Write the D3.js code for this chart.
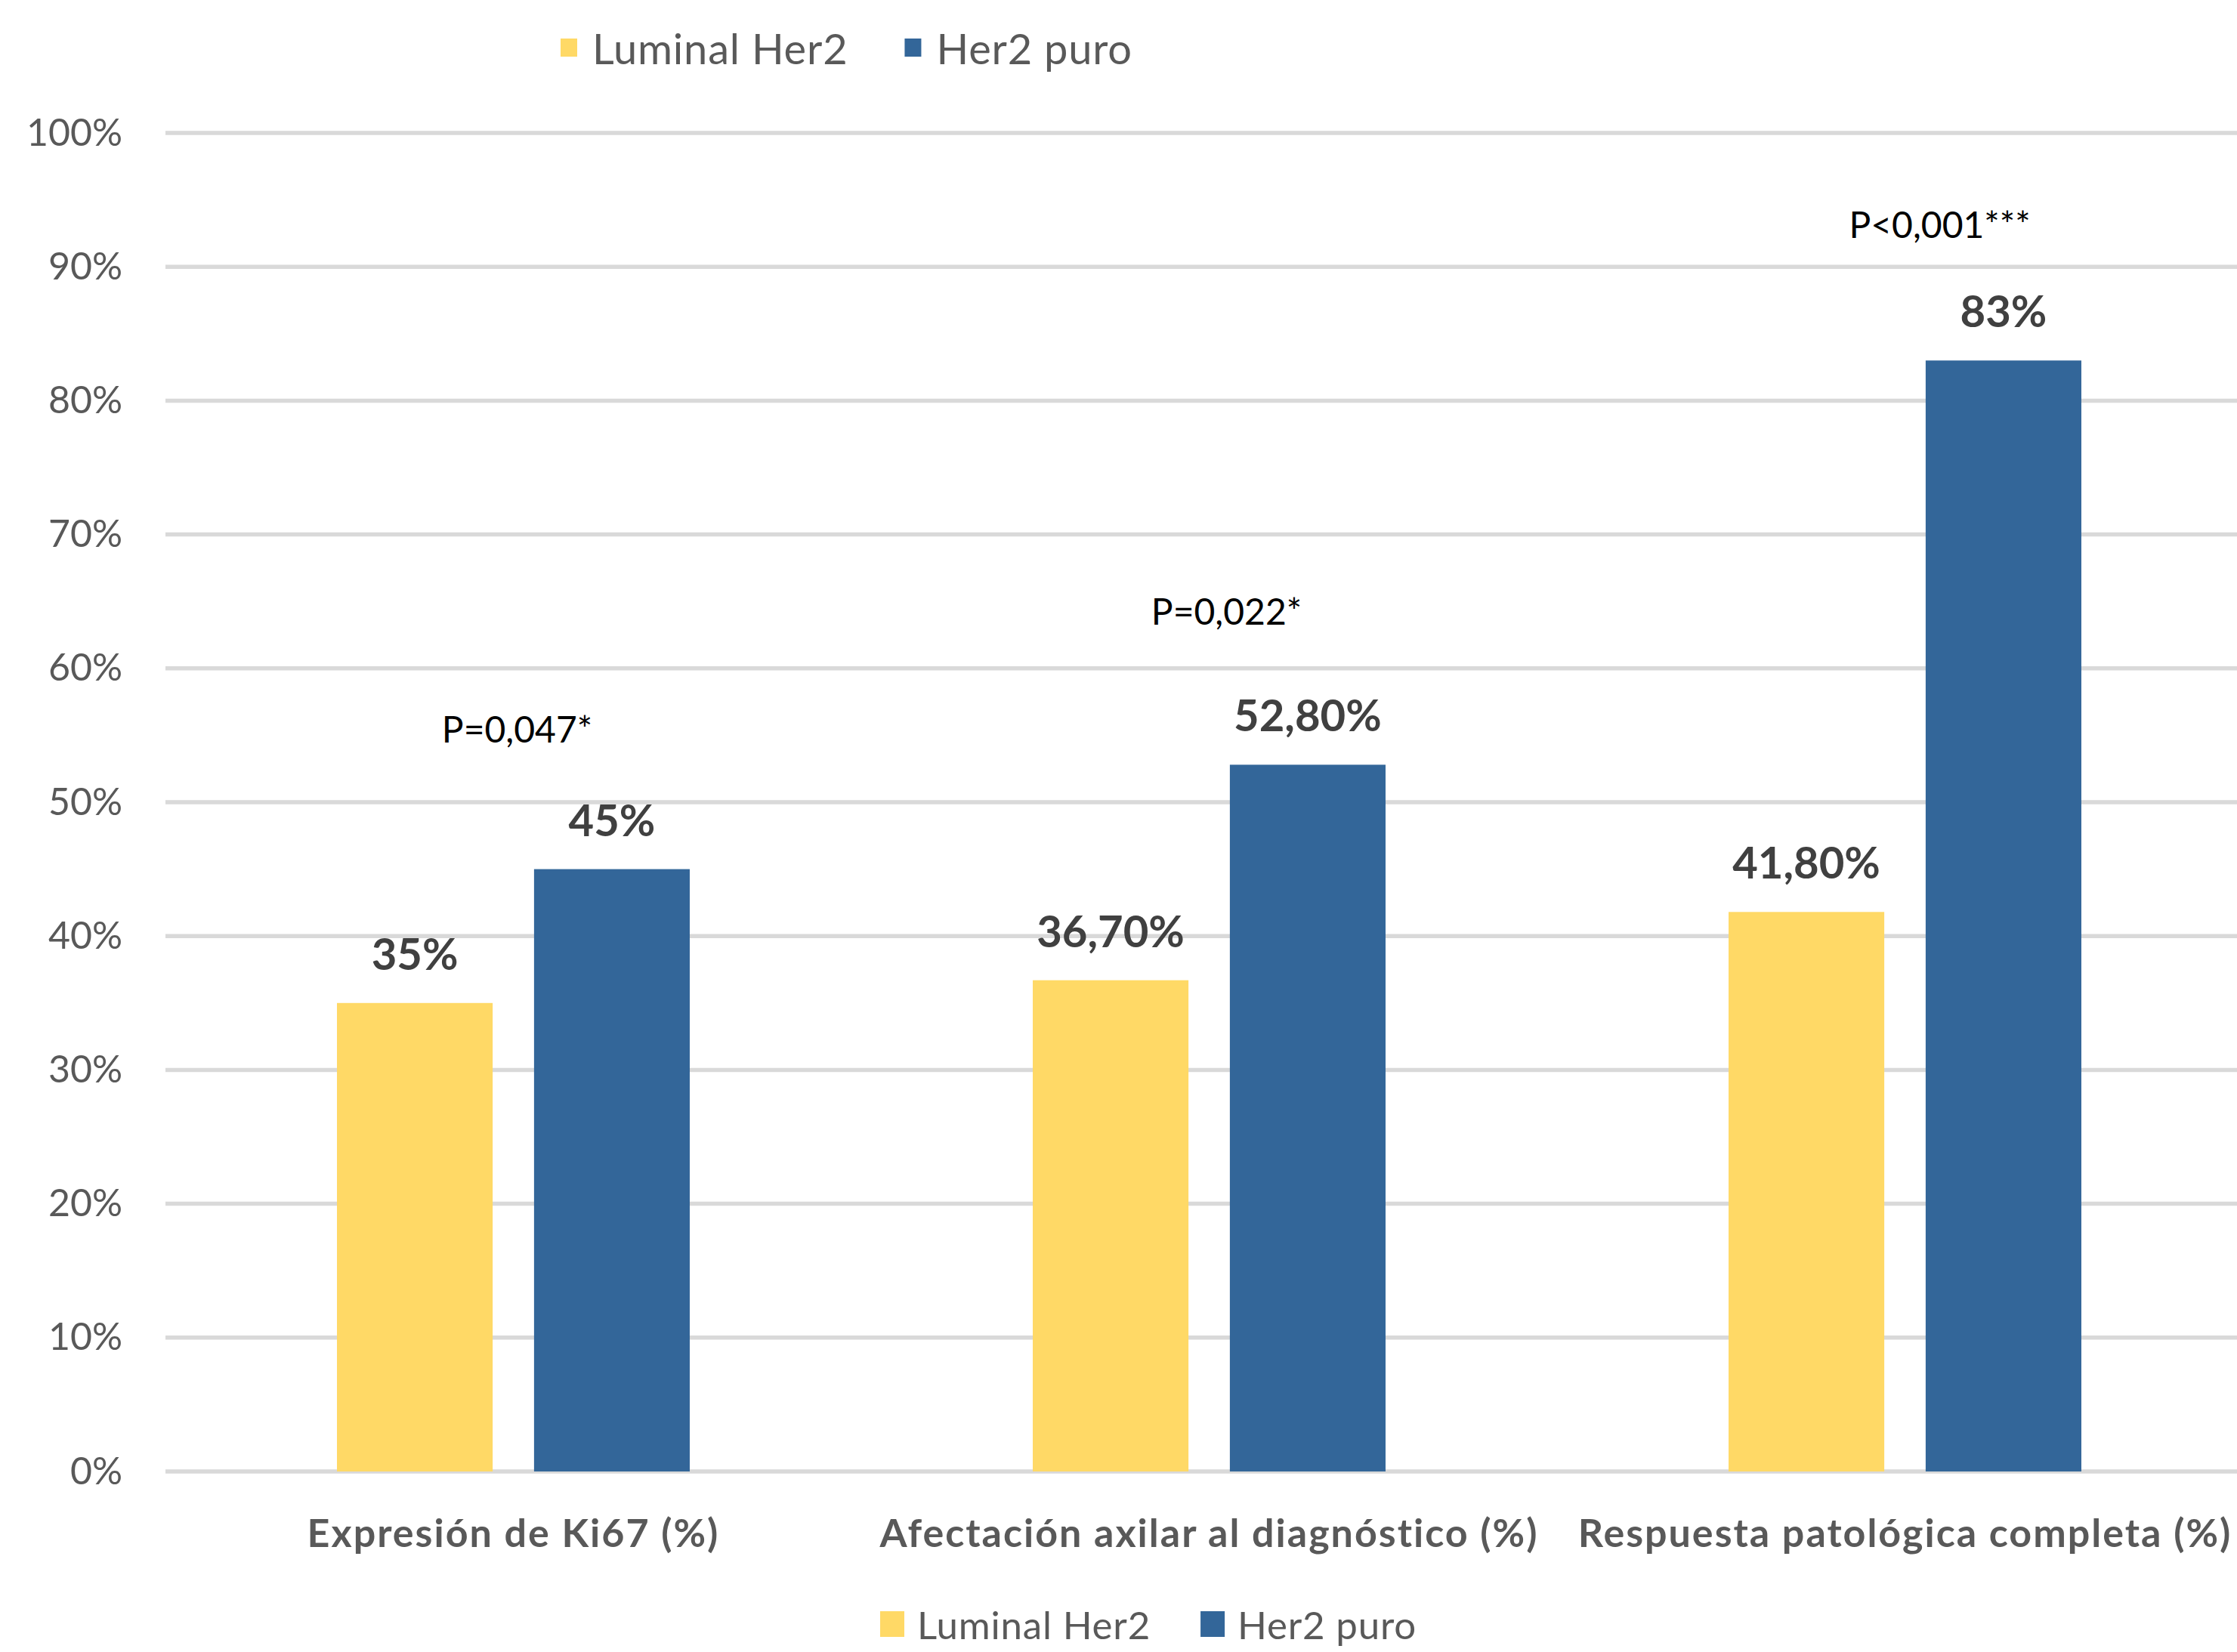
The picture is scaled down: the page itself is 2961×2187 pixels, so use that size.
<!DOCTYPE html>
<html>
<head>
<meta charset="utf-8">
<script src="https://cdn.jsdelivr.net/npm/d3@7.9.0/dist/d3.min.js"></script>
<style>
  html, body { margin: 0; padding: 0; background: #fff; }
  svg { display: block; font-family: Lato, "Open Sans", sans-serif; }
</style>
</head>
<body>
<svg id="chart"></svg>
<script>
// data
const categories = [
  'Expresión de Ki67 (%)',
  'Afectación axilar al diagnóstico (%)',
  'Respuesta patológica completa (%)'
];
const series = ['Luminal Her2', 'Her2 puro'];
const luminalValues = [35, 36.7, 41.8];
const her2Values = [45, 52.8, 83];
const valueLabels = [['35%', '45%'], ['36,70%', '52,80%'], ['41,80%', '83%']];
const pLabels = ['P=0,047*', 'P=0,022*', 'P<0,001***'];
const pShift = [5, 23, 46];     // horizontal nudge of the p annotations
const pRaise = [168, 185, 162]; // height of the p annotations above the taller bar
const yTicks = [0, 10, 20, 30, 40, 50, 60, 70, 80, 90, 100];

const colors = d3.scaleOrdinal().domain(series).range(['#FFD966', '#336699']);

const width = 2961;
const height = 2187;
const plotLeft = 219, plotRight = 2982, plotTop = 176, plotBottom = 1948;

const svg = d3.select('#chart').attr('width', width).attr('height', height);

const y = d3.scaleLinear().domain([0, 100]).range([plotBottom, plotTop]);
const x0 = d3.scaleBand().domain(categories).range([plotLeft, plotRight])
  .paddingInner(0.493).paddingOuter(0.2465);
const x1 = d3.scaleBand().domain(series).range([0, x0.bandwidth()]).paddingInner(0.21);

// gridlines
svg.append('g')
  .selectAll('line')
  .data(yTicks)
  .join('line')
  .attr('x1', plotLeft).attr('x2', plotRight)
  .attr('y1', d => y(d)).attr('y2', d => y(d))
  .attr('stroke', '#d9d9d9')
  .attr('stroke-width', 5.5);

// y axis labels
const yAxis = svg.append('g')
  .attr('transform', `translate(${plotLeft - 57},0)`)
  .call(d3.axisLeft(y).tickValues(yTicks).tickFormat(d => d + '%').tickSize(0).tickPadding(0));
yAxis.select('.domain').remove();
yAxis.selectAll('text')
  .attr('font-family', 'Lato, sans-serif')
  .attr('font-size', 50)
  .attr('fill', '#595959');

// bars
const rows = categories.map((c, i) => ({
  category: c,
  values: [luminalValues[i], her2Values[i]],
  labels: valueLabels[i],
  p: pLabels[i],
  shift: pShift[i],
  raise: pRaise[i]
}));

const groups = svg.append('g')
  .selectAll('g')
  .data(rows)
  .join('g')
  .attr('transform', d => `translate(${x0(d.category)},0)`);

groups.selectAll('rect')
  .data(d => series.map((s, j) => ({ s, v: d.values[j] })))
  .join('rect')
  .attr('x', d => x1(d.s))
  .attr('width', x1.bandwidth())
  .attr('y', d => y(d.v))
  .attr('height', d => y(0) - y(d.v))
  .attr('fill', d => colors(d.s));

// value labels
groups.selectAll('text.value')
  .data(d => series.map((s, j) => ({ s, v: d.values[j], label: d.labels[j] })))
  .join('text')
  .attr('class', 'value')
  .attr('x', d => x1(d.s) + x1.bandwidth() / 2)
  .attr('y', d => y(d.v) - 44)
  .attr('text-anchor', 'middle')
  .attr('font-size', 58)
  .attr('font-weight', 700)
  .attr('fill', '#404040')
  .text(d => d.label);

// p-value annotations
groups.append('text')
  .attr('x', d => x0.bandwidth() / 2 + d.shift)
  .attr('y', d => y(d3.max(d.values)) - d.raise)
  .attr('text-anchor', 'middle')
  .attr('font-size', 48)
  .attr('fill', '#000')
  .text(d => d.p);

// category labels
svg.append('g')
  .selectAll('text')
  .data(categories)
  .join('text')
  .attr('x', d => x0(d) + x0.bandwidth() / 2)
  .attr('y', 2048)
  .attr('text-anchor', 'middle')
  .attr('font-size', 52)
  .attr('font-weight', 700)
  .attr('letter-spacing', 2)
  .attr('fill', '#595959')
  .text(d => d);

// legends (one above, one below)
function drawLegend(x, yMid, sw, sh, gap, itemGap, fontSize) {
  const g = svg.append('g').attr('transform', `translate(${x},${yMid})`);
  let cx = 0;
  series.forEach(s => {
    g.append('rect')
      .attr('x', cx).attr('y', -sh / 2)
      .attr('width', sw).attr('height', sh)
      .attr('fill', colors(s));
    const t = g.append('text')
      .attr('x', cx + sw + gap)
      .attr('y', 0)
      .attr('dominant-baseline', 'central')
      .attr('font-size', fontSize)
      .attr('letter-spacing', 0.8)
      .attr('fill', '#595959')
      .text(s);
    cx += sw + gap + t.node().getComputedTextLength() + itemGap;
  });
}

drawLegend(742, 63, 22, 24, 20, 75, 56);
drawLegend(1165, 2150, 32, 34, 17, 66, 51);
</script>
</body>
</html>
